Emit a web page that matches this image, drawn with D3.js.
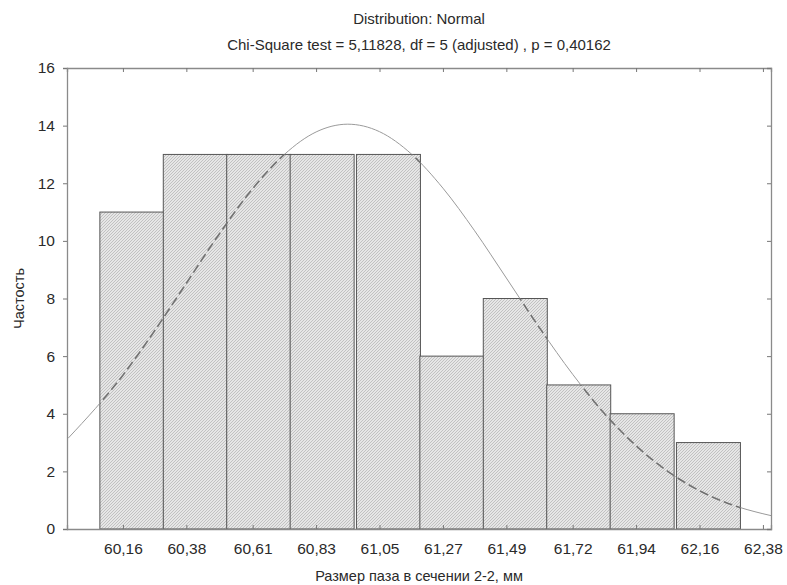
<!DOCTYPE html>
<html>
<head>
<meta charset="utf-8">
<script src="https://cdn.jsdelivr.net/npm/d3@7"></script>
<style>
    body { margin: 0; background: #fff; }
    text { font-family: 'Liberation Sans', Arial, sans-serif; fill: #2a2a2a; }
</style>
</head>
<body>
<div id="chart"></div>
<script>
// histogram bins (lower edges) and observed counts
const binStarts = [60.08, 60.30, 60.52, 60.74, 60.97, 61.19, 61.41, 61.63, 61.85, 62.08];
const binWidth = 0.222;
const counts = [11, 13, 13, 13, 13, 6, 8, 5, 4, 3];

// x tick labels
const xTicks = [60.16, 60.38, 60.61, 60.83, 61.05, 61.27, 61.49, 61.72, 61.94, 62.16, 62.38];
const yTicks = [0, 2, 4, 6, 8, 10, 12, 14, 16];

// expected (normal) curve
const curveX = [59.97, 60.16, 60.27, 60.38, 60.49, 60.61, 60.72, 60.83, 60.94, 61.05, 61.16,
    61.27, 61.38, 61.49, 61.61, 61.72, 61.83, 61.94, 62.05, 62.16, 62.27, 62.38, 62.41];
const curveY = [3.15, 5.34, 6.88, 8.53, 10.18, 11.81, 13.0, 13.78, 14.05, 13.79, 13.02,
    11.83, 10.35, 8.71, 6.91, 5.37, 4.01, 2.89, 2.0, 1.33, 0.85, 0.53, 0.46];

const titleLines = ['Distribution: Normal', 'Chi-Square test = 5,11828, df = 5 (adjusted) , p = 0,40162'];
const xTitle = 'Размер паза в сечении 2-2, мм';
const yTitle = 'Частость';

class Histogram {

    constructor(element) {
        this.element = element;
        this.draw();
    }

    draw() {
        this.margin = { top: 68, right: 16, bottom: 56, left: 67 };
        this.width = 787 - this.margin.left - this.margin.right;
        this.height = 585 - this.margin.top - this.margin.bottom;

        this.svg = d3.select(this.element).append('svg')
            .attr('width', 787)
            .attr('height', 585);

        this.plot = this.svg.append('g')
            .attr('transform', `translate(${this.margin.left},${this.margin.top})`);

        this.createScales();
        this.addDefs();
        this.addBars();
        this.addCurve();
        this.addAxes();
        this.addChartLabels();
    }

    createScales() {
        this.x = d3.scaleLinear()
            .domain([59.966, 62.408])
            .range([0, this.width]);
        this.y = d3.scaleLinear()
            .domain([0, 16])
            .range([this.height, 0]);
    }

    addDefs() {
        const defs = this.svg.append('defs');

        // diagonal hatching of the bars
        const pat = defs.append('pattern')
            .attr('id', 'hatch')
            .attr('patternUnits', 'userSpaceOnUse')
            .attr('width', 3)
            .attr('height', 3);
        pat.append('rect').attr('width', 3).attr('height', 3).attr('fill', '#e6e6e6');
        pat.append('path')
            .attr('d', 'M-1,1 l2,-2 M0,3 l3,-3 M2,4 l2,-2')
            .attr('stroke', '#a8a8a8')
            .attr('stroke-width', 0.6);

        const bars = binStarts.map((b, i) => ({ x0: b, x1: b + binWidth, n: counts[i] }));

        // inside bars -> clip, outside bars -> mask
        const clip = defs.append('clipPath').attr('id', 'inBars');
        clip.selectAll('rect').data(bars).enter().append('rect')
            .attr('x', d => this.x(d.x0))
            .attr('y', d => this.y(d.n))
            .attr('width', d => this.x(d.x1) - this.x(d.x0))
            .attr('height', d => this.height - this.y(d.n));

        const mask = defs.append('mask').attr('id', 'outBars')
            .attr('maskUnits', 'userSpaceOnUse')
            .attr('x', -100).attr('y', -100).attr('width', 1000).attr('height', 800);
        mask.append('rect').attr('x', -100).attr('y', -100)
            .attr('width', 1000).attr('height', 800).attr('fill', 'white');
        mask.selectAll('rect.b').data(bars).enter().append('rect')
            .attr('class', 'b')
            .attr('x', d => this.x(d.x0))
            .attr('y', d => this.y(d.n))
            .attr('width', d => this.x(d.x1) - this.x(d.x0))
            .attr('height', d => this.height - this.y(d.n))
            .attr('fill', 'black');

        // the plot frame clip
        defs.append('clipPath').attr('id', 'frame')
            .append('rect').attr('width', this.width).attr('height', this.height);

        this.bars = bars;
    }

    addBars() {
        this.plot.selectAll('rect.bar')
            .data(this.bars)
            .enter()
            .append('rect')
            .attr('class', 'bar')
            .attr('x', d => this.x(d.x0))
            .attr('y', d => this.y(d.n))
            .attr('width', d => this.x(d.x1) - this.x(d.x0))
            .attr('height', d => this.height - this.y(d.n))
            .attr('fill', 'url(#hatch)')
            .attr('stroke', '#555')
            .attr('stroke-width', 1);
    }

    addCurve() {
        const pts = curveX.map((v, i) => [v, curveY[i]]);
        const line = d3.line()
            .x(d => this.x(d[0]))
            .y(d => this.y(d[1]))
            .curve(d3.curveMonotoneX);

        const g = this.plot.append('g').attr('clip-path', 'url(#frame)');

        // thin solid line over the white background
        g.append('g').attr('mask', 'url(#outBars)')
            .append('path')
            .attr('d', line(pts))
            .attr('fill', 'none')
            .attr('stroke', '#9a9a9a')
            .attr('stroke-width', 1);

        // dashed darker line over the bars
        g.append('g').attr('clip-path', 'url(#inBars)')
            .append('path')
            .attr('d', line(pts))
            .attr('fill', 'none')
            .attr('stroke', '#727272')
            .attr('stroke-width', 1.6)
            .attr('stroke-dasharray', '9,4');
    }

    addAxes() {
        const fmt = d => d3.format('.2f')(d).replace('.', ',');
        const axisColor = '#8a8a8a';

        const xAxis = this.plot.append('g')
            .attr('transform', `translate(0,${this.height})`)
            .call(d3.axisBottom(this.x).tickValues(xTicks).tickFormat(fmt).tickSize(-4).tickPadding(14));
        const yAxis = this.plot.append('g')
            .call(d3.axisLeft(this.y).tickValues(yTicks).tickSize(4).tickPadding(8));
        const xTop = this.plot.append('g')
            .call(d3.axisTop(this.x).tickValues(xTicks).tickFormat('').tickSize(-4));
        const yRight = this.plot.append('g')
            .attr('transform', `translate(${this.width},0)`)
            .call(d3.axisRight(this.y).tickValues(yTicks).tickFormat('').tickSize(-4));

        [xAxis, yAxis, xTop, yRight].forEach(a => {
            a.select('.domain').attr('stroke', axisColor).attr('stroke-width', 1.3);
            a.selectAll('.tick line').attr('stroke', '#777');
            a.selectAll('text')
                .style('font-family', "'Liberation Sans', Arial, sans-serif")
                .style('font-size', '15.5px')
                .attr('fill', '#2a2a2a');
        });
    }

    addChartLabels() {
        const cx = this.margin.left + this.width / 2;

        this.svg.selectAll('text.title')
            .data(titleLines)
            .enter()
            .append('text')
            .attr('class', 'title')
            .attr('x', cx)
            .attr('y', (d, i) => 24 + i * 26)
            .attr('text-anchor', 'middle')
            .style('font-size', '15px')
            .text(d => d);

        this.svg.append('text')
            .attr('x', cx)
            .attr('y', 581)
            .attr('text-anchor', 'middle')
            .style('font-size', '14.5px')
            .text(xTitle);

        this.svg.append('text')
            .attr('transform', `translate(24,${this.margin.top + this.height / 2}) rotate(-90)`)
            .attr('text-anchor', 'middle')
            .style('font-size', '14.5px')
            .text(yTitle);
    }
}

new Histogram('#chart');
</script>
</body>
</html>
